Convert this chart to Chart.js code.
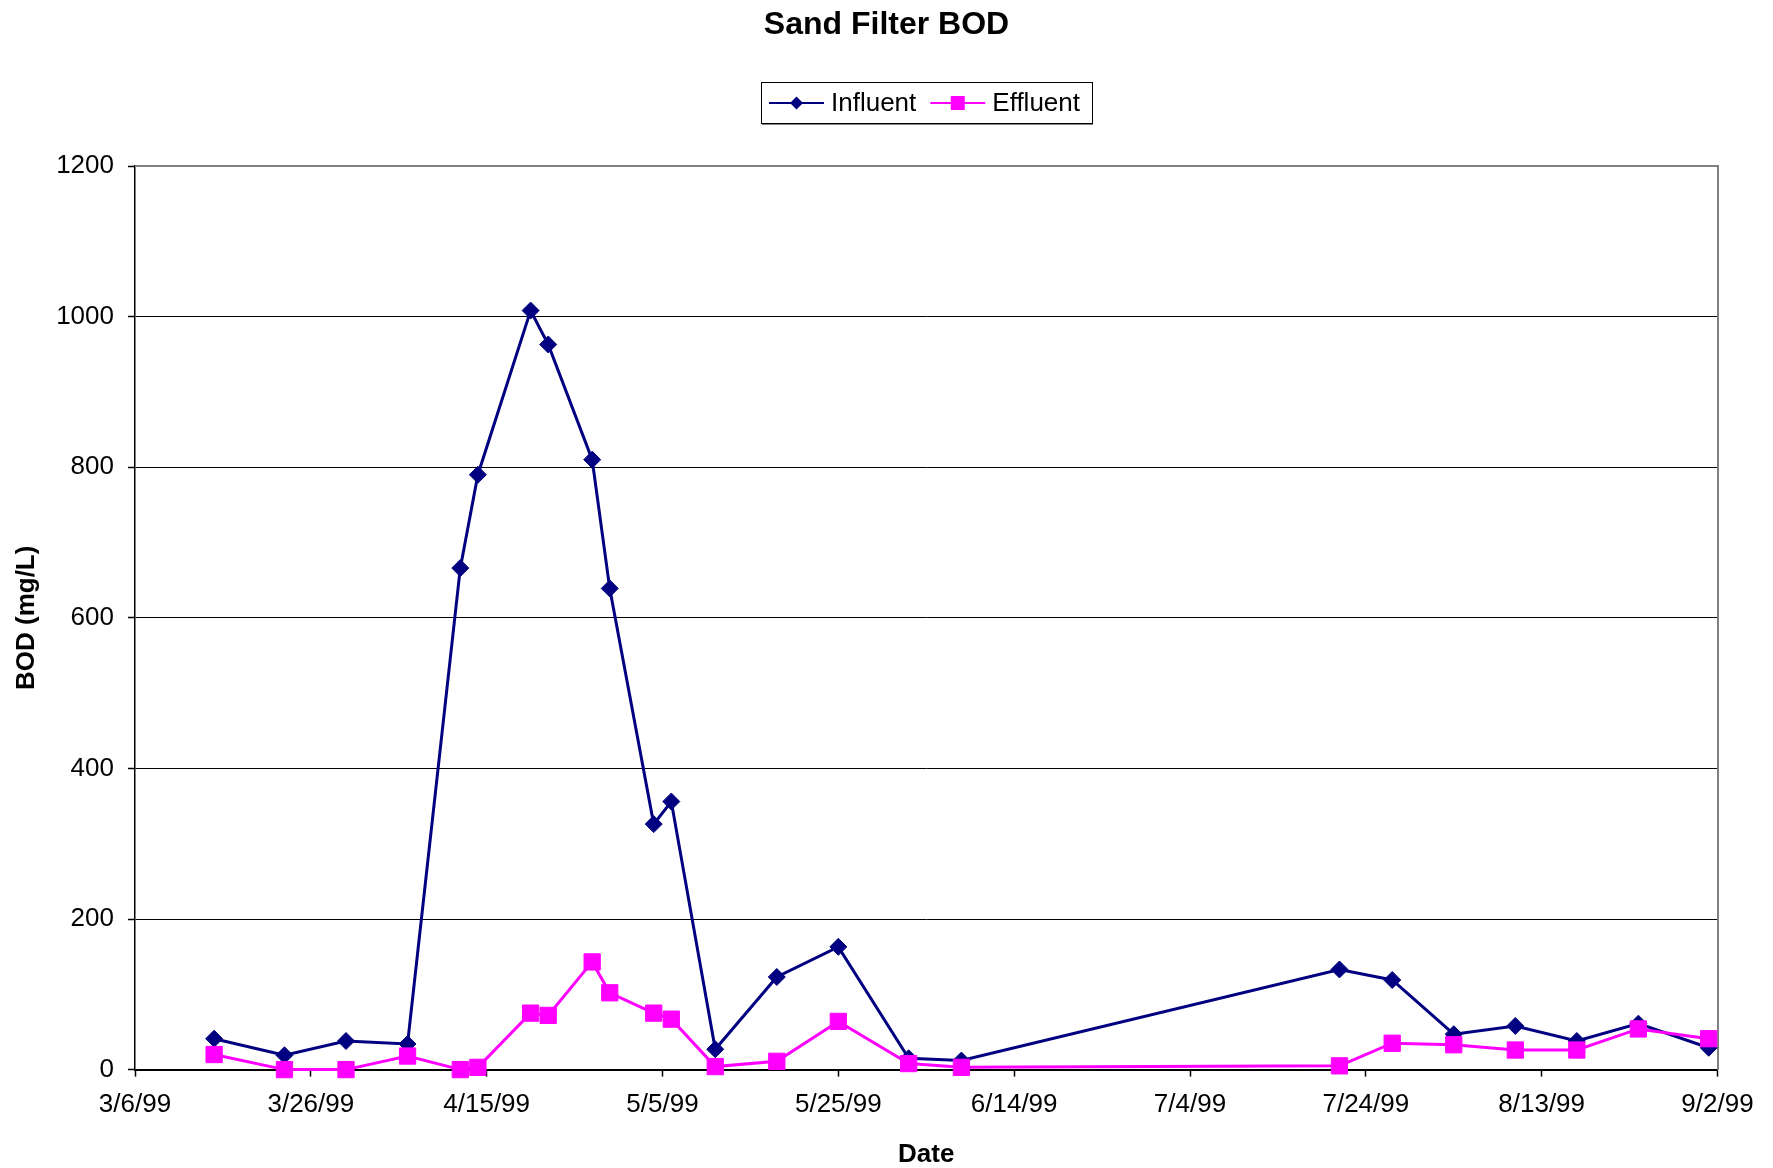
<!DOCTYPE html>
<html>
<head>
<meta charset="utf-8">
<title>Sand Filter BOD</title>
<script src="https://cdn.jsdelivr.net/npm/chart.js@4.4.0/dist/chart.umd.min.js"></script>
<style>
  body { margin: 0; background: #fff; }
  canvas { display: block; }
</style>
</head>
<body>
<canvas id="myChart" width="1773" height="1168"></canvas>
<script>
// sample dates (m/d/yy) and BOD readings in mg/L
const sampleDates = ['3/15/99', '3/23/99', '3/30/99', '4/6/99', '4/12/99', '4/14/99', '4/20/99', '4/22/99',
  '4/27/99', '4/29/99', '5/4/99', '5/6/99', '5/11/99', '5/18/99', '5/25/99', '6/2/99', '6/8/99',
  '7/21/99', '7/27/99', '8/3/99', '8/10/99', '8/17/99', '8/24/99', '9/1/99'];
const influent = [41, 19, 38, 34, 666, 790, 1008, 963, 810, 639, 326, 356, 27, 123, 163, 15, 12,
  133, 119, 47, 58, 38, 61, 29];
const effluent = [20, 0, 0, 18, 0, 3, 75, 72, 143, 102, 75, 67, 4, 11, 64, 8, 3,
  5, 35, 33, 26, 26, 54, 41];

// x axis runs from 3/6/99 to 9/2/99, a tick every 20 days
const axisStart = '3/6/99';
const axisEnd = '9/2/99';
const dayStep = 20;

const FONT = '"Liberation Sans", Arial, sans-serif';
const DAY_MS = 86400000;

function toUTC(s) {
  const [m, d, y] = s.split('/').map(Number);
  return Date.UTC(1900 + y, m - 1, d);
}
function toDay(s) {
  return Math.round((toUTC(s) - toUTC(axisStart)) / DAY_MS);
}
function dayLabel(v) {
  const dt = new Date(toUTC(axisStart) + v * DAY_MS);
  return (dt.getUTCMonth() + 1) + '/' + dt.getUTCDate() + '/' + String(dt.getUTCFullYear()).slice(2);
}

Chart.defaults.font.family = FONT;
Chart.defaults.color = '#000';

// gray frame line on the top of the plot area (right side comes from the y2 border)
const plotFrame = {
  id: 'plotFrame',
  beforeDatasetsDraw(chart) {
    const { ctx, chartArea: a } = chart;
    ctx.save();
    ctx.strokeStyle = '#808080';
    ctx.lineWidth = 2;
    ctx.beginPath();
    ctx.moveTo(a.left, a.top);
    ctx.lineTo(a.right, a.top);
    ctx.stroke();
    ctx.restore();
  }
};

// Excel-like boxed legend: line with marker, then label
const boxLegend = {
  id: 'boxLegend',
  afterDraw(chart) {
    const { ctx, chartArea } = chart;
    const lineLen = 55, gap = 7, spacing = 14, padL = 8, padR = 12;
    const top = 82, bottom = 123, cy = 103;
    ctx.save();
    ctx.font = '26px ' + FONT;
    const items = chart.data.datasets.map(ds => ({
      label: ds.label, color: ds.borderColor, style: ds.pointStyle, w: ctx.measureText(ds.label).width
    }));
    let total = padL + padR + spacing * (items.length - 1);
    items.forEach(it => { total += lineLen + gap + it.w; });
    const left = Math.round((chartArea.left + chartArea.right) / 2 - total / 2);

    ctx.fillStyle = '#fff';
    ctx.fillRect(left, top, total, bottom - top);
    ctx.strokeStyle = '#808080';
    ctx.lineWidth = 2;
    ctx.beginPath();
    ctx.moveTo(left + 1, bottom + 1);
    ctx.lineTo(left + total + 1, bottom + 1);
    ctx.stroke();
    ctx.strokeStyle = '#000';
    ctx.lineWidth = 1;
    ctx.strokeRect(left + 0.5, top + 0.5, total, bottom - top);

    let x = left + padL;
    items.forEach(it => {
      ctx.strokeStyle = it.color;
      ctx.fillStyle = it.color;
      ctx.lineWidth = 2;
      ctx.beginPath();
      ctx.moveTo(x, cy);
      ctx.lineTo(x + lineLen, cy);
      ctx.stroke();
      const mx = x + lineLen / 2;
      ctx.beginPath();
      if (it.style === 'rectRot') {
        const r = 6.5;
        ctx.moveTo(mx - r, cy);
        ctx.lineTo(mx, cy - r);
        ctx.lineTo(mx + r, cy);
        ctx.lineTo(mx, cy + r);
        ctx.closePath();
      } else {
        ctx.rect(mx - 7, cy - 7, 14, 14);
      }
      ctx.fill();
      ctx.fillStyle = '#000';
      ctx.textBaseline = 'middle';
      ctx.textAlign = 'left';
      ctx.fillText(it.label, x + lineLen + gap, cy + 1);
      x += lineLen + gap + it.w + spacing;
    });
    ctx.restore();
  }
};

const data = {
  datasets: [
    {
      label: 'Influent',
      data: sampleDates.map((d, i) => ({ x: toDay(d), y: influent[i] })),
      borderColor: '#000080',
      backgroundColor: '#000080',
      borderWidth: 3,
      pointStyle: 'rectRot',
      pointRadius: 8.5,
      pointBorderWidth: 1,
      tension: 0,
      clip: false,
      order: 1
    },
    {
      label: 'Effluent',
      data: sampleDates.map((d, i) => ({ x: toDay(d), y: effluent[i] })),
      borderColor: '#FF00FF',
      backgroundColor: '#FF00FF',
      borderWidth: 3,
      pointStyle: 'rect',
      pointRadius: 11.5,
      pointBorderWidth: 1,
      tension: 0,
      clip: false,
      order: 0
    }
  ]
};

const config = {
  type: 'line',
  data: data,
  options: {
    responsive: false,
    animation: false,
    devicePixelRatio: 1,
    layout: { padding: 0 },
    plugins: {
      legend: { display: false },
      tooltip: { enabled: false },
      title: {
        display: true,
        text: 'Sand Filter BOD',
        color: '#000',
        font: { size: 32, weight: 'bold' },
        padding: { top: 6, bottom: 121.6 }
      }
    },
    scales: {
      x: {
        type: 'linear',
        min: 0,
        max: toDay(axisEnd),
        afterFit: (s) => { s.height = 98.4; },
        ticks: {
          stepSize: dayStep,
          autoSkip: false,
          maxRotation: 0,
          padding: 13,
          font: { size: 26 },
          callback: (v) => dayLabel(v)
        },
        grid: {
          drawOnChartArea: false,
          tickLength: 7,
          tickColor: '#000',
          tickWidth: 1.5
        },
        border: { color: '#000', width: 2 },
        title: {
          display: true,
          text: 'Date',
          font: { size: 26, weight: 'bold' },
          padding: { top: 0, bottom: -2 }
        }
      },
      y: {
        min: 0,
        max: 1200,
        afterFit: (s) => { s.width = 135; },
        ticks: {
          stepSize: 200,
          padding: 14,
          font: { size: 26 },
          callback: (v) => String(v)
        },
        grid: {
          color: (c) => (c.tick && c.tick.value === 1200) ? 'rgba(0,0,0,0)' : '#000',
          lineWidth: 1,
          tickLength: 7,
          tickColor: '#000',
          tickWidth: 1.5
        },
        border: { color: '#000', width: 1.5 },
        title: {
          display: true,
          text: 'BOD (mg/L)',
          font: { size: 26, weight: 'bold' },
          padding: { top: 11, bottom: 0 }
        }
      },
      // empty right axis: keeps the right margin and draws the gray right edge
      y2: {
        position: 'right',
        min: 0,
        max: 1200,
        afterFit: (s) => { s.width = 55.5; },
        ticks: { display: false },
        grid: { drawOnChartArea: false, drawTicks: false },
        border: { color: '#808080', width: 2 }
      }
    }
  },
  plugins: [plotFrame, boxLegend]
};

const ctx = document.getElementById('myChart').getContext('2d');
const myChart = new Chart(ctx, config);
</script>
</body>
</html>
